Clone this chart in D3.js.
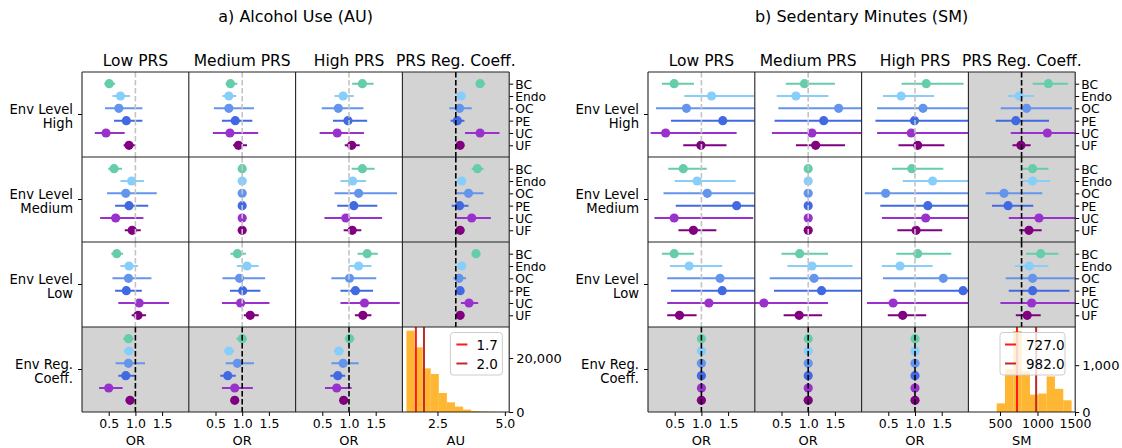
<!DOCTYPE html>
<html><head><meta charset="utf-8">
<script src="https://cdn.jsdelivr.net/npm/d3@7"></script>
<style>body{margin:0;background:#fff}svg{display:block;font-family:"DejaVu Sans",sans-serif}</style>
</head><body><svg id="c" width="1122" height="448"></svg>
<script>
const categories = ["BC","Endo","OC","PE","UC","UF"];
const colors = ["#66CDAA","#87CEFA","#6495ED","#4169E1","#9932CC","#800080"];
const colTitles = ["Low PRS","Medium PRS","High PRS","PRS Reg. Coeff."];
const rowLabels = [["Env Level","High"],["Env Level","Medium"],["Env Level","Low"],["Env Reg.","Coeff."]];
const orTicks = [0.5,1.0,1.5];

// [estimate, lower CI, upper CI] per category
const au_high_low  = [[0.51,0.42,0.62],[0.72,0.57,0.90],[0.69,0.43,1.13],[0.83,0.60,1.13],[0.45,0.24,0.80],[0.88,0.78,1.01]];
const au_high_med  = [[0.78,0.69,0.91],[0.75,0.63,0.89],[0.75,0.47,1.22],[0.87,0.62,1.19],[0.77,0.45,1.30],[0.93,0.83,1.09]];
const au_high_high = [[1.25,1.06,1.46],[0.89,0.73,1.09],[0.80,0.49,1.27],[0.98,0.70,1.34],[0.78,0.45,1.28],[1.05,0.92,1.20]];
const au_high_reg  = [[4.08,3.92,4.27],[3.38,3.25,3.52],[3.32,2.94,3.77],[3.24,2.99,3.50],[4.08,3.52,4.80],[3.34,3.21,3.46]];
const au_med_low   = [[0.60,0.49,0.75],[0.93,0.72,1.16],[0.82,0.47,1.40],[0.88,0.62,1.24],[0.63,0.34,1.15],[0.94,0.80,1.10]];
const au_med_med   = [[1,1,1],[1,1,1],[1,1,1],[1,1,1],[1,1,1],[1,1,1]];
const au_med_high  = [[1.25,1.05,1.48],[1.07,0.84,1.32],[1.18,0.73,1.90],[1.09,0.78,1.53],[0.94,0.54,1.62],[1.06,0.90,1.23]];
const au_med_reg   = [[3.98,3.77,4.21],[3.40,3.28,3.55],[3.65,3.21,4.21],[3.32,3.03,3.65],[3.77,3.21,4.48],[3.34,3.19,3.46]];
const au_low_low   = [[0.65,0.55,0.77],[0.88,0.72,1.05],[0.87,0.57,1.30],[0.83,0.62,1.12],[1.07,0.68,1.63],[1.05,0.93,1.20]];
const au_low_med   = [[0.91,0.78,1.07],[1.09,0.90,1.31],[0.95,0.63,1.43],[1.01,0.77,1.34],[0.97,0.62,1.51],[1.15,1.03,1.31]];
const au_low_high  = [[1.34,1.16,1.54],[1.18,1.00,1.42],[1.01,0.67,1.51],[1.12,0.84,1.45],[1.29,0.84,1.95],[1.26,1.11,1.42]];
const au_low_reg   = [[3.93,3.90,3.96],[3.40,3.37,3.44],[3.30,3.09,3.56],[3.34,3.19,3.48],[3.67,3.37,4.01],[3.34,3.21,3.46]];
const au_env_low   = [[0.87,0.77,0.96],[0.88,0.79,0.97],[0.87,0.63,1.18],[0.82,0.68,0.99],[0.50,0.32,0.76],[0.90,0.82,0.97]];
const au_env_med   = [[1.00,0.89,1.09],[0.75,0.67,0.85],[0.91,0.69,1.22],[0.73,0.59,0.88],[0.86,0.62,1.20],[0.86,0.80,0.92]];
const au_env_high  = [[1.01,0.92,1.10],[0.81,0.72,0.90],[0.89,0.67,1.18],[0.79,0.65,0.93],[0.77,0.55,1.05],[0.90,0.84,0.97]];
const au_regRef = 3.18;
const au_binEdges = [1.35,1.65,1.95,2.25,2.55,2.85,3.15,3.45,3.75,4.05,4.35,4.65,4.95];
const au_counts   = [30150,23960,16180,14070,7040,3590,2000,890,370,200,90,40];
const au_thresholds = [1.7,2.0];
const au_thrLabels = ["1.7","2.0"];
const au_xTicks = [2.5,5.0];
const au_yTicks = [0,20000];

const sm_high_low  = [[0.49,0.26,0.86],[1.19,0.68,2.3],[0.72,0.15,2.3],[1.40,0.43,2.5],[0.33,0.05,1.66],[0.99,0.66,1.47]];
const sm_high_med  = [[0.93,0.58,1.50],[0.77,0.41,1.38],[1.57,0.44,2.3],[1.29,0.37,2.2],[1.07,0.32,2.2],[1.14,0.77,1.69]];
const sm_high_high = [[1.21,0.75,1.91],[0.74,0.40,1.36],[1.15,0.29,2.1],[0.99,0.26,2.2],[0.93,0.29,2.1],[1.05,0.69,1.55]];
const sm_high_reg  = [[1145,935,1405],[756,600,957],[855,510,1459],[711,443,1154],[1132,644,1600],[779,667,909]];
const sm_med_low   = [[0.66,0.38,1.10],[0.92,0.50,1.64],[1.11,0.29,2.3],[1.66,0.52,2.8],[0.49,0.12,1.97],[0.85,0.57,1.28]];
const sm_med_med   = [[1,1,1],[1,1,1],[1,1,1],[1,1,1],[1,1,1],[1,1,1]];
const sm_med_high  = [[0.94,0.57,1.53],[1.33,0.77,2.1],[0.45,0.06,2.3],[1.24,0.35,2.1],[1.20,0.38,2.2],[1.02,0.67,1.51]];
const sm_med_reg   = [[935,788,1145],[935,788,1168],[554,309,1064],[608,394,944],[1020,617,1600],[886,756,1056]];
const sm_low_low   = [[0.49,0.26,0.86],[0.77,0.41,1.39],[1.35,0.36,2.3],[1.39,0.43,2.3],[1.14,0.36,2.3],[0.59,0.36,0.91]];
const sm_low_med   = [[0.84,0.50,1.37],[1.07,0.61,1.83],[1.11,0.28,2.2],[1.25,0.36,2.2],[0.17,-0.3,1.37],[0.83,0.54,1.26]];
const sm_low_high  = [[1.05,0.65,1.68],[0.72,0.38,1.33],[1.53,0.40,2.2],[1.90,0.60,2.3],[0.59,0.10,2.1],[0.77,0.49,1.21]];
const sm_low_reg   = [[1043,846,1279],[890,698,1145],[935,577,1600],[935,617,1427],[922,506,1600],[863,711,1043]];
const sm_env_low   = [[1,0.98,1.02],[1,0.98,1.02],[1,0.98,1.02],[1,0.98,1.02],[1,0.98,1.02],[1,0.98,1.02]];
const sm_env_med   = [[1,0.98,1.02],[1,0.98,1.02],[1,0.98,1.02],[1,0.98,1.02],[1,0.98,1.02],[1,0.98,1.02]];
const sm_env_high  = [[1,0.98,1.02],[1,0.98,1.02],[1,0.98,1.02],[1,0.98,1.02],[1,0.98,1.02],[1,0.98,1.02]];
const sm_regRef = 788;
const sm_binEdges = [456,567,678,789,900,1011,1122,1233,1344,1455];
const sm_counts   = [185,915,1730,870,370,395,760,495,250];
const sm_thresholds = [727,982];
const sm_thrLabels = ["727.0","982.0"];
const sm_xTicks = [500,1000,1500];
const sm_yTicks = [0,1000];

const svg = d3.select("#c");
const TOP = 72, ROWH = 85, COLW = 106.8;
const GRAY = "#d3d3d3";
const thrColors = ["#ff1a1a","#c62828"];
let clipId = 0;

function drawPanel(cfg){
  const g = svg.append("g");
  const x0 = cfg.x0;
  const right = x0 + 4*COLW;
  g.append("text").attr("x",(x0+right)/2).attr("y",22).attr("text-anchor","middle")
    .attr("font-size",16).text(cfg.title);
  colTitles.forEach((t,i)=>{
    g.append("text").attr("x",x0+COLW*i+COLW/2).attr("y",65.5).attr("text-anchor","middle")
      .attr("font-size",15.5).text(t);
  });
  const orScale = (c)=>d3.scaleLinear().domain([0,2]).range([x0+COLW*c, x0+COLW*(c+1)]);
  const regScale = d3.scaleLinear().domain(cfg.regDomain).range([x0+COLW*3, x0+COLW*4]);

  for(let r=0;r<4;r++){
    const y0 = TOP + ROWH*r, y1 = y0+ROWH;
    const yS = d3.scalePoint().domain(categories).range([y0,y1]).padding(0.95);
    const yc = (y0+y1)/2;
    const lab = g.append("text").attr("text-anchor","end").attr("font-size",13.2);
    rowLabels[r].forEach((l,k)=>{
      lab.append("tspan").attr("x",x0-9).attr("y",yc + (k===0?-0.5:13.5)).text(l);
    });
    g.append("line").attr("x1",x0-4).attr("x2",x0).attr("y1",yc).attr("y2",yc).attr("stroke","#000");
    for(let c=0;c<4;c++){
      const cx0 = x0+COLW*c;
      const isHist = (r===3 && c===3);
      const gray = !isHist && (r===3 || c===3);
      g.append("rect").attr("x",cx0).attr("y",y0).attr("width",COLW).attr("height",ROWH)
        .attr("fill", gray?GRAY:"#fff");
      const id = "clip"+(clipId++);
      g.append("clipPath").attr("id",id).append("rect").attr("x",cx0).attr("y",y0).attr("width",COLW).attr("height",ROWH);
      const cg = g.append("g").attr("clip-path",`url(#${id})`);
      if(isHist){
        const xs = regScale;
        const ys = d3.scaleLinear().domain(cfg.histYDomain).range([y1,y0]);
        const bins = cfg.counts.map((n,i)=>({a:cfg.binEdges[i],b:cfg.binEdges[i+1],n}));
        cg.selectAll("rect.bar").data(bins).join("rect").attr("class","bar")
          .attr("x",d=>xs(d.a)).attr("width",d=>xs(d.b)-xs(d.a))
          .attr("y",d=>ys(d.n)).attr("height",d=>ys(0)-ys(d.n))
          .attr("fill","#FFA500").attr("fill-opacity",0.8);
        cfg.thresholds.forEach((t,i)=>{
          cg.append("line").attr("x1",xs(t)).attr("x2",xs(t)).attr("y1",y0).attr("y2",y1)
            .attr("stroke",thrColors[i]).attr("stroke-width",2);
        });
        const L = cfg.legend;
        const lg = cg.append("g").attr("transform",`translate(${cx0+L.dx},${y0+5.5})`);
        lg.append("rect").attr("width",L.w).attr("height",42.5).attr("rx",3)
          .attr("fill","#fff").attr("fill-opacity",0.8).attr("stroke","#ccc");
        cfg.thrLabels.forEach((t,i)=>{
          const yy = 12 + i*19;
          lg.append("line").attr("x1",L.lx).attr("x2",L.lx+11).attr("y1",yy).attr("y2",yy)
            .attr("stroke",thrColors[i]).attr("stroke-width",2);
          lg.append("text").attr("x",L.tx).attr("y",yy+5).attr("font-size",13.5).text(t);
        });
        const yax = g.append("g").attr("transform",`translate(${right},0)`)
          .call(d3.axisRight(ys).tickValues(cfg.yTicks).tickFormat(d3.format(",")).tickSize(4).tickPadding(3));
        yax.select(".domain").remove();
        yax.selectAll("text").attr("font-size",13).attr("font-family","DejaVu Sans");
        continue;
      }
      const data = cfg.cells[r][c];
      const xs = (c===3) ? regScale : orScale(c);
      const pts = data.map((d,i)=>({cat:categories[i],e:d[0],lo:d[1],hi:d[2],col:colors[i]}));
      cg.selectAll("line.ci").data(pts).join("line").attr("class","ci")
        .attr("x1",d=>xs(d.lo)).attr("x2",d=>xs(d.hi)).attr("y1",d=>yS(d.cat)).attr("y2",d=>yS(d.cat))
        .attr("stroke",d=>d.col).attr("stroke-width",2);
      cg.selectAll("circle").data(pts).join("circle")
        .attr("cx",d=>xs(d.e)).attr("cy",d=>yS(d.cat)).attr("r",4.6).attr("fill",d=>d.col);
      const ref = (c===3) ? cfg.regRef : 1;
      cg.append("line").attr("x1",xs(ref)).attr("x2",xs(ref)).attr("y1",y0).attr("y2",y1)
        .attr("stroke", gray?"#000":"#c4c4c4").attr("stroke-width",1.6).attr("stroke-dasharray","5.5,2.5");
      if(c===3){
        const ax = g.append("g").attr("transform",`translate(${right},0)`)
          .call(d3.axisRight(yS).tickSize(4).tickPadding(2));
        ax.select(".domain").remove();
        ax.selectAll("text").attr("font-size",12.3).attr("font-family","DejaVu Sans").attr("dy","0.36em");
      }
    }
  }
  for(let i=0;i<=4;i++){
    g.append("line").attr("x1",x0+COLW*i).attr("x2",x0+COLW*i).attr("y1",TOP).attr("y2",TOP+4*ROWH)
      .attr("stroke","#222").attr("stroke-width",1.1);
    g.append("line").attr("x1",x0).attr("x2",right).attr("y1",TOP+ROWH*i).attr("y2",TOP+ROWH*i)
      .attr("stroke","#222").attr("stroke-width",1.1);
  }
  const yb = TOP+4*ROWH;
  for(let c=0;c<4;c++){
    const xs = c===3 ? regScale : orScale(c);
    const ax = g.append("g").attr("transform",`translate(0,${yb})`)
      .call(d3.axisBottom(xs).tickValues(c===3?cfg.xTicks:orTicks)
        .tickFormat(c===3?cfg.xFmt:d3.format(".1f")).tickSize(4).tickPadding(3));
    ax.select(".domain").remove();
    ax.selectAll("text").attr("font-size",12.5).attr("font-family","DejaVu Sans");
    g.append("text").attr("x",x0+COLW*c+COLW/2).attr("y",445).attr("text-anchor","middle")
      .attr("font-size",13).text(c===3?cfg.regLabel:"OR");
  }
}

drawPanel({
  x0:82, title:"a) Alcohol Use (AU)", regLabel:"AU",
  regDomain:[1.20,5.16], regRef:au_regRef,
  cells:[[au_high_low,au_high_med,au_high_high,au_high_reg],
         [au_med_low,au_med_med,au_med_high,au_med_reg],
         [au_low_low,au_low_med,au_low_high,au_low_reg],
         [au_env_low,au_env_med,au_env_high,null]],
  binEdges:au_binEdges, counts:au_counts, histYDomain:[0,31500],
  thresholds:au_thresholds, thrLabels:au_thrLabels,
  xTicks:au_xTicks, xFmt:d3.format(".1f"), yTicks:au_yTicks,
  legend:{dx:48,w:52,lx:6,tx:26}
});
drawPanel({
  x0:648, title:"b) Sedentary Minutes (SM)", regLabel:"SM",
  regDomain:[79,1503], regRef:sm_regRef,
  cells:[[sm_high_low,sm_high_med,sm_high_high,sm_high_reg],
         [sm_med_low,sm_med_med,sm_med_high,sm_med_reg],
         [sm_low_low,sm_low_med,sm_low_high,sm_low_reg],
         [sm_env_low,sm_env_med,sm_env_high,null]],
  binEdges:sm_binEdges, counts:sm_counts, histYDomain:[0,1816],
  thresholds:sm_thresholds, thrLabels:sm_thrLabels,
  xTicks:sm_xTicks, xFmt:d3.format("d"), yTicks:sm_yTicks,
  legend:{dx:31.6,w:65,lx:5,tx:26}
});
</script></body></html>
